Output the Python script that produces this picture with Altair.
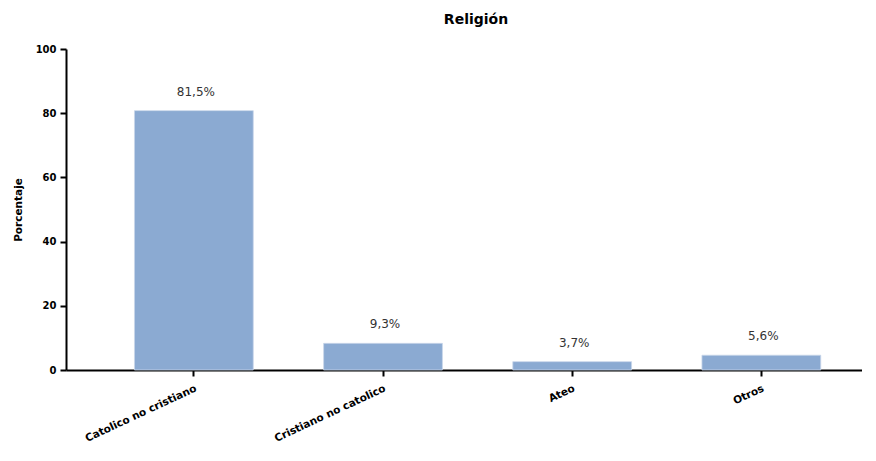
import altair as alt
import pandas as pd

categories = ["Catolico no cristiano", "Cristiano no catolico", "Ateo", "Otros"]
values = [80.8, 8.3, 2.6, 4.6]
labels = ["81,5%", "9,3%", "3,7%", "5,6%"]
y_ticks = [0, 20, 40, 60, 80, 100]

df = pd.DataFrame({"cat": categories, "val": values, "lab": labels})

FONT = "DejaVu Sans"

x = alt.X("cat:N", sort=categories, title=None,
          scale=alt.Scale(paddingInner=0.372, paddingOuter=0.29, align=0.624),
          axis=alt.Axis(labelAngle=-25, labelAlign="right", labelBaseline="top",
                        labelFont=FONT, labelFontSize=10.5, labelFontWeight="bold",
                        labelColor="#000", labelPadding=7,
                        domainColor="#000", domainWidth=2,
                        tickColor="#000", tickWidth=2, tickSize=6))
y = alt.Y("val:Q", title="Porcentaje",
          scale=alt.Scale(domain=[0, 100], nice=False, zero=True),
          axis=alt.Axis(values=y_ticks, grid=False,
                        labelFont=FONT, labelFontSize=10, labelFontWeight="bold",
                        labelColor="#000", labelPadding=4,
                        titleFont=FONT, titleFontSize=10.5, titleFontWeight="bold",
                        titleColor="#000", titlePadding=12,
                        domainColor="#000", domainWidth=2,
                        tickColor="#000", tickWidth=2, tickSize=6))

bars = alt.Chart(df).mark_bar(color="#8BAAD2", stroke="#C9D7EA", strokeWidth=0.8).encode(x=x, y=y)
text = alt.Chart(df).mark_text(baseline="bottom", dy=-12, dx=2, font=FONT, fontSize=12,
                               color="#333333").encode(
    x=alt.X("cat:N", sort=categories), y="val:Q", text="lab:N")

chart = (bars + text).properties(
    width=796, height=321,
    padding={"left": 5, "top": 5, "right": 0, "bottom": 5},
    title=alt.TitleParams("Religión", font=FONT, fontSize=14, fontWeight="bold",
                          color="#000", anchor="middle", offset=17, dx=12),
).configure_view(stroke=None)

chart.save("out.html", embed_options={"renderer": "svg", "actions": False})
